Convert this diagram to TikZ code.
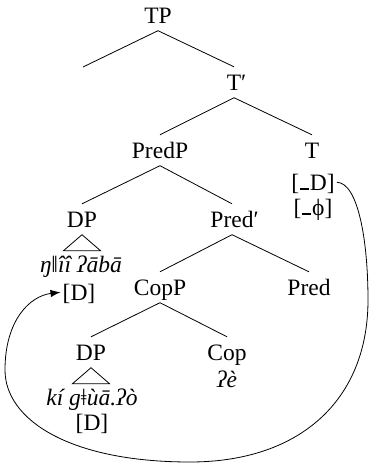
\documentclass[tikz,border=0pt]{standalone}
\usepackage{fontspec}
\setmainfont{Liberation Serif}
\usetikzlibrary{arrows.meta,calc}
\begin{document}
\begin{tikzpicture}[x=1pt,y=-1pt,
  every node/.style={font=\fontsize{23.5}{26}\selectfont},
  lab/.style={anchor=base,inner xsep=2pt,inner ysep=0pt,text height=23pt,text depth=7.5pt},
  data/.style={lab,font=\fontsize{23.5}{26}\selectfont\itshape},
  branch/.style={line width=0.8pt},
  move/.style={line width=0.8pt,-{Latex[length=10pt,width=7.5pt]}}]
\useasboundingbox (0,0) rectangle (370,466);
\node[lab] (TP) at (158,23) {TP};
\coordinate (L) at (83,67);
\node[lab] (Tp) at (234,90) {T\rlap{′}};
\node[lab] (PredP) at (160,158) {PredP};
\node[lab] (T) at (312,158) {T};
\node[lab] (TD) at (313,190) {[\kern0.04em\rule{0.38em}{0.1em}\kern0.04em D]};
\node[lab] (Tphi) at (313,215) {[\kern0.04em\rule{0.38em}{0.1em}\kern0.04em ϕ]};
\node[lab] (DPa) at (82,227) {DP};
\node[lab] (Predp) at (232,227) {Pred\rlap{′}};
\node[data] (dataa) at (81,272) {ŋǁîî ʔābā};
\node[lab] (Da) at (79,300) {[D]};
\node[lab] (CopP) at (160,295) {CopP};
\node[lab] (Pred) at (309,295) {Pred};
\node[lab] (DPb) at (91,360) {DP};
\node[lab] (Cop) at (227,360) {Cop};
\node[data] (re) at (227,387) {ʔè};
\node[data] (datab) at (92,405) {kí gǂùā.ʔò};
\node[lab] (Db) at (92,430) {[D]};
\draw[branch] (L) -- (TP.south) -- (Tp.north);
\draw[branch] (PredP.north) -- (Tp.south) -- (T.north);
\draw[branch] (DPa.north) -- (PredP.south) -- (Predp.north);
\draw[branch] (CopP.north) -- (Predp.south) -- (Pred.north);
\draw[branch] (DPb.north) -- (CopP.south) -- (Cop.north);
\draw[branch] (DPa.south) -- ($(DPa.south)+(-18.5,16)$) -- ($(DPa.south)+(18.5,16)$) -- cycle;
\draw[branch] (DPb.south) -- ($(DPb.south)+(-18.5,16)$) -- ($(DPb.south)+(18.5,16)$) -- cycle;
\draw[move] (TD.east) .. controls (358,183) and (368,240) .. (368,300)
  .. controls (368,400) and (300,462) .. (190,462)
  .. controls (70,462) and (5,420) .. (5,370)
  .. controls (5,320) and (30,296) .. (Da.west);
\end{tikzpicture}
\end{document}
